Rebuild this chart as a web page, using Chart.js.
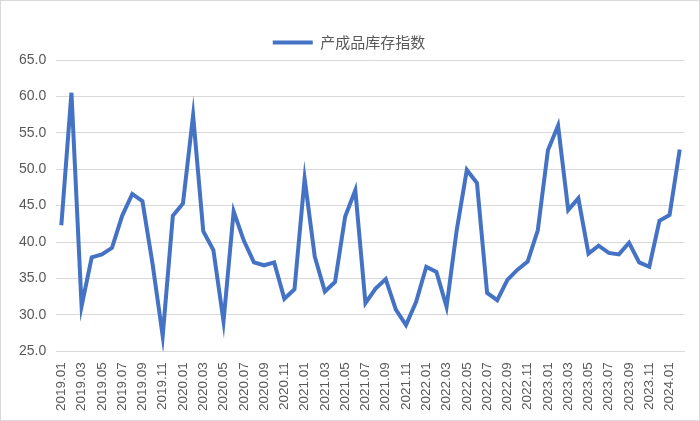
<!DOCTYPE html>
<html><head><meta charset="utf-8">
<script src="https://cdn.jsdelivr.net/npm/chart.js@4/dist/chart.umd.min.js"></script>
<style>body{margin:0;background:#fff}#wrap{position:absolute;left:0;top:0;width:698px;height:419px;border:1px solid #d9d9d9}</style>
</head><body><div id="wrap"><canvas id="c"></canvas></div>
<script>
const months = [];
for (let y = 2019; y <= 2024; y++) for (let m = 1; m <= 12; m++) months.push(y + "." + String(m).padStart(2, "0"));
const labels = months.slice(0, 62);
const inventoryIndex = [
  42.3, 60.5, 31.2, 37.9, 38.3, 39.2, 43.6, 46.6, 45.6, 37.0, 27.1, 43.6,
  45.3, 57.4, 41.5, 38.9, 29.1, 44.2, 40.2, 37.2, 36.8, 37.2, 32.2, 33.5,
  48.7, 38.0, 33.2, 34.5, 43.5, 47.1, 31.6, 33.6, 34.9, 30.7, 28.6, 31.8,
  36.6, 35.9, 31.1, 41.6, 49.9, 48.1, 33.0, 32.0, 34.8, 36.2, 37.3, 41.6,
  52.6, 56.0, 44.4, 46.0, 38.4, 39.5, 38.5, 38.3, 39.9, 37.2, 36.6, 42.9,
  43.7, 52.7
];

new Chart(document.getElementById("c"), {
  type: "line",
  data: {
    labels: labels,
    datasets: [{
      label: "产成品库存指数",
      data: inventoryIndex,
      borderColor: "#4472c4",
      backgroundColor: "#4472c4",
      borderWidth: 4,
      pointRadius: 0,
      tension: 0,
    }],
  },
  options: {
    responsive: true,
    maintainAspectRatio: false,
    animation: false,
    layout: { padding: { top: 14, right: 10, left: 8, bottom: 6 } },
    plugins: {
      legend: {
        position: "top",
        labels: {
          boxWidth: 40, boxHeight: 0, color: "#595959",
          font: { family: "Noto Sans CJK SC", size: 15 },
          padding: 20,
        },
      },
      tooltip: { enabled: false },
    },
    scales: {
      x: {
        offset: true,
        grid: { display: false },
        border: { color: "#d9d9d9" },
        ticks: {
          autoSkip: false, maxRotation: 90, minRotation: 90, color: "#595959",
          font: { family: "Liberation Sans", size: 13.5 },
          callback: (v, i) => (i % 2 === 0 ? labels[i] : ""),
        },
      },
      y: {
        min: 25, max: 65,
        grid: { color: "#d9d9d9", drawTicks: false },
        border: { display: false },
        ticks: {
          stepSize: 5, padding: 10, color: "#595959",
          font: { family: "Liberation Sans", size: 14 },
          callback: (v) => v.toFixed(1),
        },
      },
    },
  },
});
</script></body></html>
